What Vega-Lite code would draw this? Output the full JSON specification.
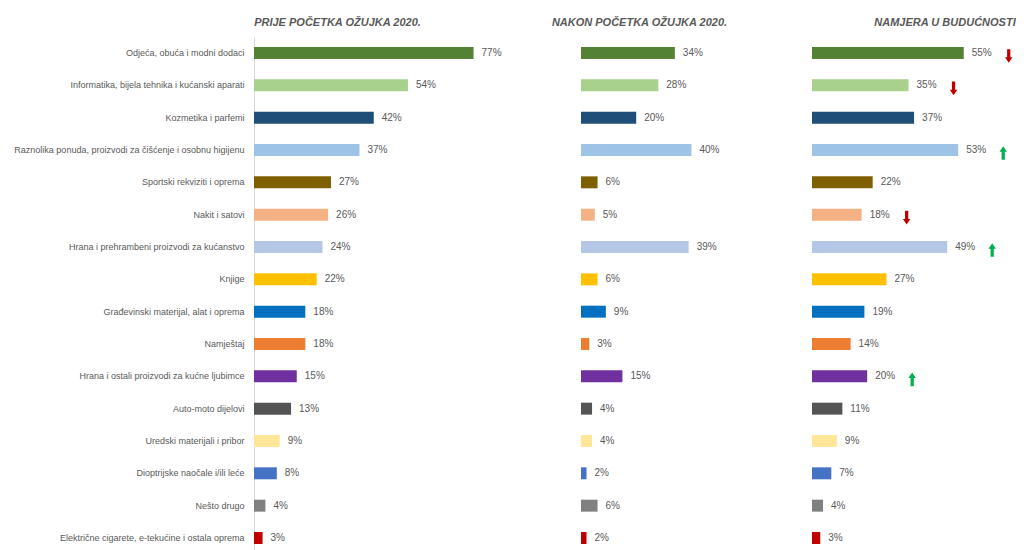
{
  "$schema": "https://vega.github.io/schema/vega-lite/v6.json",
  "padding": {"left": 13, "top": 17, "right": 0, "bottom": 0},
  "background": "white",
  "bounds": "flush",
  "config": {
    "view": {"stroke": null},
    "font": "Liberation Sans, sans-serif",
    "title": {"font": "Liberation Sans, sans-serif", "fontSize": 11, "fontStyle": "italic", "fontWeight": "bold", "color": "#595959", "anchor": "middle", "offset": 9, "baseline": "alphabetic"}
  },
  "datasets": {
    "rows": [
      {"c": "Odjeća, obuća i modni dodaci", "p": "prije", "v": 0.77},
      {"c": "Informatika, bijela tehnika i kućanski aparati", "p": "prije", "v": 0.54},
      {"c": "Kozmetika i parfemi", "p": "prije", "v": 0.42},
      {"c": "Raznolika ponuda, proizvodi za čišćenje i osobnu higijenu", "p": "prije", "v": 0.37},
      {"c": "Sportski rekviziti i oprema", "p": "prije", "v": 0.27},
      {"c": "Nakit i satovi", "p": "prije", "v": 0.26},
      {"c": "Hrana i prehrambeni proizvodi za kućanstvo", "p": "prije", "v": 0.24},
      {"c": "Knjige", "p": "prije", "v": 0.22},
      {"c": "Građevinski materijal, alat i oprema", "p": "prije", "v": 0.18},
      {"c": "Namještaj", "p": "prije", "v": 0.18},
      {"c": "Hrana i ostali proizvodi za kućne ljubimce", "p": "prije", "v": 0.15},
      {"c": "Auto-moto dijelovi", "p": "prije", "v": 0.13},
      {"c": "Uredski materijali i pribor", "p": "prije", "v": 0.09},
      {"c": "Dioptrijske naočale i/ili leće", "p": "prije", "v": 0.08},
      {"c": "Nešto drugo", "p": "prije", "v": 0.04},
      {"c": "Električne cigarete, e-tekućine i ostala oprema", "p": "prije", "v": 0.03},
      {"c": "Odjeća, obuća i modni dodaci", "p": "nakon", "v": 0.34},
      {"c": "Informatika, bijela tehnika i kućanski aparati", "p": "nakon", "v": 0.28},
      {"c": "Kozmetika i parfemi", "p": "nakon", "v": 0.20},
      {"c": "Raznolika ponuda, proizvodi za čišćenje i osobnu higijenu", "p": "nakon", "v": 0.40},
      {"c": "Sportski rekviziti i oprema", "p": "nakon", "v": 0.06},
      {"c": "Nakit i satovi", "p": "nakon", "v": 0.05},
      {"c": "Hrana i prehrambeni proizvodi za kućanstvo", "p": "nakon", "v": 0.39},
      {"c": "Knjige", "p": "nakon", "v": 0.06},
      {"c": "Građevinski materijal, alat i oprema", "p": "nakon", "v": 0.09},
      {"c": "Namještaj", "p": "nakon", "v": 0.03},
      {"c": "Hrana i ostali proizvodi za kućne ljubimce", "p": "nakon", "v": 0.15},
      {"c": "Auto-moto dijelovi", "p": "nakon", "v": 0.04},
      {"c": "Uredski materijali i pribor", "p": "nakon", "v": 0.04},
      {"c": "Dioptrijske naočale i/ili leće", "p": "nakon", "v": 0.02},
      {"c": "Nešto drugo", "p": "nakon", "v": 0.06},
      {"c": "Električne cigarete, e-tekućine i ostala oprema", "p": "nakon", "v": 0.02},
      {"c": "Odjeća, obuća i modni dodaci", "p": "namjera", "v": 0.55, "t": "down"},
      {"c": "Informatika, bijela tehnika i kućanski aparati", "p": "namjera", "v": 0.35, "t": "down"},
      {"c": "Kozmetika i parfemi", "p": "namjera", "v": 0.37},
      {"c": "Raznolika ponuda, proizvodi za čišćenje i osobnu higijenu", "p": "namjera", "v": 0.53, "t": "up"},
      {"c": "Sportski rekviziti i oprema", "p": "namjera", "v": 0.22},
      {"c": "Nakit i satovi", "p": "namjera", "v": 0.18, "t": "down"},
      {"c": "Hrana i prehrambeni proizvodi za kućanstvo", "p": "namjera", "v": 0.49, "t": "up"},
      {"c": "Knjige", "p": "namjera", "v": 0.27},
      {"c": "Građevinski materijal, alat i oprema", "p": "namjera", "v": 0.19},
      {"c": "Namještaj", "p": "namjera", "v": 0.14},
      {"c": "Hrana i ostali proizvodi za kućne ljubimce", "p": "namjera", "v": 0.20, "t": "up"},
      {"c": "Auto-moto dijelovi", "p": "namjera", "v": 0.11},
      {"c": "Uredski materijali i pribor", "p": "namjera", "v": 0.09},
      {"c": "Dioptrijske naočale i/ili leće", "p": "namjera", "v": 0.07},
      {"c": "Nešto drugo", "p": "namjera", "v": 0.04},
      {"c": "Električne cigarete, e-tekućine i ostala oprema", "p": "namjera", "v": 0.03}
    ]
  },
  "data": {"name": "rows"},
  "spacing": 0,
  "resolve": {"scale": {"x": "independent", "y": "independent"}},
  "hconcat": [
    {
      "width": 327,
      "height": 517,
      "title": {"text": "PRIJE POČETKA OŽUJKA 2020.", "dx": -80},
      "transform": [{"filter": "datum.p === 'prije'"}],
      "encoding": {
        "y": {"field": "c", "type": "nominal", "sort": null, "scale": {"paddingInner": 0.63, "paddingOuter": 0.31},
          "axis": {"title": null, "ticks": false, "labelPadding": 10, "labelFontSize": 9, "labelColor": "#595959", "labelLimit": 245, "domainColor": "#D9D9D9", "grid": false}},
        "x": {"field": "v", "type": "quantitative", "scale": {"domain": [0, 1.147], "nice": false}, "axis": null}
      },
      "layer": [
        {"mark": {"type": "bar"},
          "encoding": {"color": {"field": "c", "type": "nominal", "legend": null,
            "scale": {"domain": ["Odjeća, obuća i modni dodaci", "Informatika, bijela tehnika i kućanski aparati", "Kozmetika i parfemi", "Raznolika ponuda, proizvodi za čišćenje i osobnu higijenu", "Sportski rekviziti i oprema", "Nakit i satovi", "Hrana i prehrambeni proizvodi za kućanstvo", "Knjige", "Građevinski materijal, alat i oprema", "Namještaj", "Hrana i ostali proizvodi za kućne ljubimce", "Auto-moto dijelovi", "Uredski materijali i pribor", "Dioptrijske naočale i/ili leće", "Nešto drugo", "Električne cigarete, e-tekućine i ostala oprema"],
              "range": ["#548235", "#A9D18E", "#1F4E79", "#9DC3E6", "#7F6000", "#F4B183", "#B4C7E7", "#FFC000", "#0070C0", "#ED7D31", "#7030A0", "#545454", "#FFE699", "#4472C4", "#808080", "#C00000"]}}}},
        {"mark": {"type": "text", "align": "left", "baseline": "middle", "dx": 8, "fontSize": 10, "color": "#595959"},
          "encoding": {"text": {"field": "v", "type": "quantitative", "format": ".0%"}}}
      ]
    },
    {
      "width": 231,
      "height": 517,
      "title": {"text": "NAKON POČETKA OŽUJKA 2020.", "dx": -57},
      "transform": [{"filter": "datum.p === 'nakon'"}],
      "encoding": {
        "y": {"field": "c", "type": "nominal", "sort": null, "scale": {"paddingInner": 0.63, "paddingOuter": 0.31}, "axis": null},
        "x": {"field": "v", "type": "quantitative", "scale": {"domain": [0, 0.837], "nice": false}, "axis": null}
      },
      "layer": [
        {"mark": {"type": "bar"},
          "encoding": {"color": {"field": "c", "type": "nominal", "legend": null,
            "scale": {"domain": ["Odjeća, obuća i modni dodaci", "Informatika, bijela tehnika i kućanski aparati", "Kozmetika i parfemi", "Raznolika ponuda, proizvodi za čišćenje i osobnu higijenu", "Sportski rekviziti i oprema", "Nakit i satovi", "Hrana i prehrambeni proizvodi za kućanstvo", "Knjige", "Građevinski materijal, alat i oprema", "Namještaj", "Hrana i ostali proizvodi za kućne ljubimce", "Auto-moto dijelovi", "Uredski materijali i pribor", "Dioptrijske naočale i/ili leće", "Nešto drugo", "Električne cigarete, e-tekućine i ostala oprema"],
              "range": ["#548235", "#A9D18E", "#1F4E79", "#9DC3E6", "#7F6000", "#F4B183", "#B4C7E7", "#FFC000", "#0070C0", "#ED7D31", "#7030A0", "#545454", "#FFE699", "#4472C4", "#808080", "#C00000"]}}}},
        {"mark": {"type": "text", "align": "left", "baseline": "middle", "dx": 8, "fontSize": 10, "color": "#595959"},
          "encoding": {"text": {"field": "v", "type": "quantitative", "format": ".0%"}}}
      ]
    },
    {
      "width": 200,
      "height": 517,
      "title": {"text": "NAMJERA U BUDUĆNOSTI", "dx": 33},
      "transform": [{"filter": "datum.p === 'namjera'"}],
      "encoding": {
        "y": {"field": "c", "type": "nominal", "sort": null, "scale": {"paddingInner": 0.63, "paddingOuter": 0.31}, "axis": null},
        "x": {"field": "v", "type": "quantitative", "scale": {"domain": [0, 0.725], "nice": false}, "axis": null}
      },
      "layer": [
        {"mark": {"type": "bar"},
          "encoding": {"color": {"field": "c", "type": "nominal", "legend": null,
            "scale": {"domain": ["Odjeća, obuća i modni dodaci", "Informatika, bijela tehnika i kućanski aparati", "Kozmetika i parfemi", "Raznolika ponuda, proizvodi za čišćenje i osobnu higijenu", "Sportski rekviziti i oprema", "Nakit i satovi", "Hrana i prehrambeni proizvodi za kućanstvo", "Knjige", "Građevinski materijal, alat i oprema", "Namještaj", "Hrana i ostali proizvodi za kućne ljubimce", "Auto-moto dijelovi", "Uredski materijali i pribor", "Dioptrijske naočale i/ili leće", "Nešto drugo", "Električne cigarete, e-tekućine i ostala oprema"],
              "range": ["#548235", "#A9D18E", "#1F4E79", "#9DC3E6", "#7F6000", "#F4B183", "#B4C7E7", "#FFC000", "#0070C0", "#ED7D31", "#7030A0", "#545454", "#FFE699", "#4472C4", "#808080", "#C00000"]}}}},
        {"mark": {"type": "text", "align": "left", "baseline": "middle", "dx": 8, "fontSize": 10, "color": "#595959"},
          "encoding": {"text": {"field": "v", "type": "quantitative", "format": ".0%"}}},
        {"transform": [{"filter": "datum.t === 'down'"}],
          "mark": {"type": "point", "filled": true, "opacity": 1, "size": 185, "color": "#C00000", "strokeWidth": 0, "xOffset": 45, "yOffset": 3,
            "shape": "M-0.24,-1 L0.24,-1 L0.24,0.2 L0.55,0.2 L0,1 L-0.55,0.2 L-0.24,0.2 Z"},
          "encoding": {}},
        {"transform": [{"filter": "datum.t === 'up'"}],
          "mark": {"type": "point", "filled": true, "opacity": 1, "size": 185, "color": "#00B050", "strokeWidth": 0, "xOffset": 45, "yOffset": 3,
            "shape": "M-0.24,1 L0.24,1 L0.24,-0.2 L0.55,-0.2 L0,-1 L-0.55,-0.2 L-0.24,-0.2 Z"},
          "encoding": {}}
      ]
    }
  ]
}
